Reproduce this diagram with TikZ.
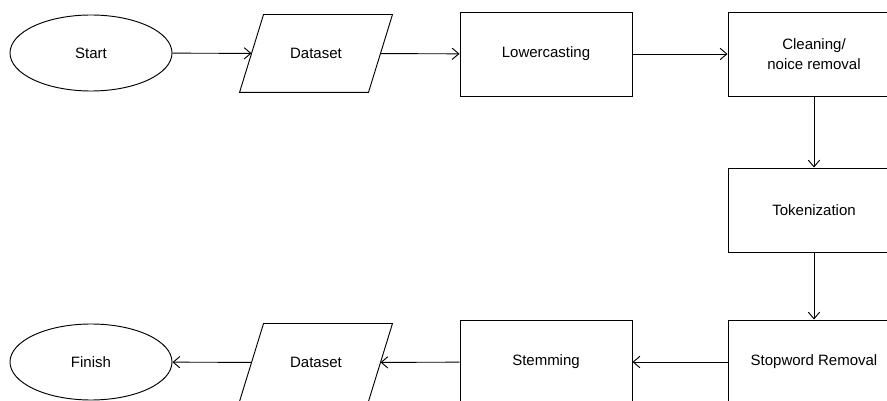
\documentclass[tikz,border=0pt]{standalone}
\usepackage{fontspec}
\setmainfont{Liberation Sans}
\usetikzlibrary{shapes.geometric,arrows.meta,calc}

\begin{document}
\begin{tikzpicture}[x=0.03cm,y=-0.03cm,line width=0.8pt,
  every node/.style={font=\fontsize{12.8}{17}\selectfont,inner sep=0pt},
  term/.style={draw,ellipse,minimum width=4.86cm,minimum height=2.28cm},
  io/.style={rectangle,minimum width=3.84cm,minimum height=2.31cm},
  proc/.style={draw,rectangle,minimum width=5.16cm,minimum height=2.52cm,align=center},
  flow/.style={-{Straight Barb[length=2mm,width=3.4mm]}}]
\clip (0,0) rectangle (887,401);
\node[term] (start) at (91,53) {Start};
\node[io] (data1) at (316,53.5) {Dataset};
\node[proc] (lower) at (546,54) {Lowercasting};
\node[proc] (clean) at (814,54) {Cleaning/\\noice removal};
\node[proc] (token) at (814,210) {Tokenization};
\node[proc] (stop) at (814,362) {Stopword Removal};
\node[proc] (stem) at (546,362) {Stemming};
\node[io] (data2) at (316,362.5) {Dataset};
\node[term] (finish) at (91,362) {Finish};
\foreach \d in {data1,data2}
  \draw ($(\d.south west)+(-12,0)$) -- ($(\d.south east)+(-12,0)$)
    -- ($(\d.north east)+(12,0)$) -- ($(\d.north west)+(12,0)$) -- cycle;
\draw[flow] (start) -- (data1);
\draw[flow] (data1) -- (lower);
\draw[flow] (lower) -- (clean);
\draw[flow] (clean) -- (token);
\draw[flow] (token) -- (stop);
\draw[flow] (stop) -- (stem);
\draw[flow] (stem) -- (data2);
\draw[flow] (data2) -- (finish);
\end{tikzpicture}
\end{document}
